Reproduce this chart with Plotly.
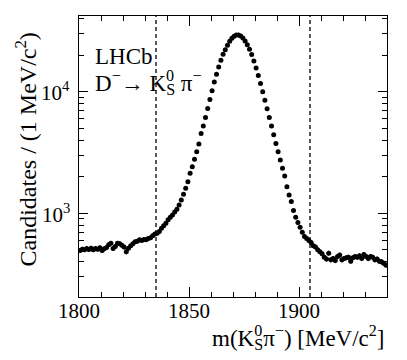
import numpy as np
import plotly.graph_objects as go

# D- -> KS0 pi- mass spectrum, 1 MeV bins from 1800 to 1940
bin_low = 1800
counts = [
    493, 506, 500, 512, 503, 516, 500, 512, 506, 519,
    493, 509, 522, 549, 567, 512, 532, 567, 560, 546,
    526, 481, 516, 539, 560, 581, 589, 604, 596, 608,
    604, 619, 627, 651, 676, 685, 707, 753, 787, 828,
    882, 927, 969, 1026, 1079, 1171, 1287, 1433, 1605, 1821,
    2132, 2419, 2779, 3213, 3715, 4546, 5222, 6152, 7295, 8650,
    10190, 12080, 13970, 16060, 18210, 20400, 22280, 24190, 26090, 27610,
    28680, 29410, 29350, 28860, 27790, 26260, 24490, 22420, 20270, 17980,
    15750, 13620, 11710, 10000, 8541, 7251, 6152, 5222, 4432, 3761,
    3213, 2743, 2344, 2027, 1656, 1415, 1247, 1052, 927, 838,
    767, 698, 643, 619, 596, 574, 539, 526, 500, 481,
    463, 435, 419, 469, 413, 424, 408, 440, 452, 413,
    424, 430, 435, 403, 430, 440, 435, 446, 424, 457,
    440, 424, 440, 435, 413, 419, 403, 398, 388, 374,
]
masses = [bin_low + i + 0.5 for i in range(len(counts))]
signal_window = [1835, 1905]

x_ticks = [1800, 1850, 1900]
y_ticks = [1000, 10000]
y_ticktext = ["10<sup>3</sup>", "10<sup>4</sup>"]

font = "Liberation Serif"
txt = dict(family=font, size=23, color="black")
title_font = dict(family=font, size=24, color="black")
tickfont = dict(family=font, size=21, color="black")

# K0_S with the 0 stacked over the S (negative letter spacing pulls the S back)
ks = "K<sup><span style='letter-spacing:-8px'>0</span></sup><sub>S</sub>"

fig = go.Figure()

fig.add_trace(
    go.Scatter(
        x=masses,
        y=counts,
        mode="markers",
        marker=dict(color="black", size=5),
        error_y=dict(type="data", array=np.sqrt(counts), color="black", thickness=1, width=0),
        showlegend=False,
        hoverinfo="skip",
    )
)

# signal window boundaries
for m in signal_window:
    fig.add_shape(
        type="line", x0=m, x1=m, y0=0, y1=1, xref="x", yref="paper",
        line=dict(color="black", width=1.3, dash="4px,3px"),
    )

# tick labels as annotations on the axis scales (built-in label placement was unstable)
for v in x_ticks:
    fig.add_annotation(
        text=str(v), x=v, xref="x", y=-0.05, yref="paper",
        xanchor="center", yanchor="middle", showarrow=False, font=tickfont,
    )
for v, t in zip(y_ticks, y_ticktext):
    fig.add_annotation(
        text=t, x=-0.023, xref="paper", y=np.log10(v), yref="y",
        xanchor="right", yanchor="middle", showarrow=False, font=tickfont,
    )

fig.add_annotation(
    text="LHCb", x=0.045, y=0.855, xref="paper", yref="paper",
    xanchor="left", yanchor="middle", showarrow=False, font=txt,
)
fig.add_annotation(
    text="D<sup>−</sup>→ " + ks + " π<sup>−</sup>", x=0.045, y=0.765,
    xref="paper", yref="paper", xanchor="left", yanchor="middle", showarrow=False, font=txt,
)
fig.add_annotation(
    text="Candidates / (1 MeV/c<sup>2</sup>)", x=-0.172, y=0.525,
    xref="paper", yref="paper", xanchor="center", yanchor="middle",
    textangle=-90, showarrow=False, font=title_font,
)
fig.add_annotation(
    text="m(" + ks + "π<sup>−</sup>) [MeV/c<sup>2</sup>]", x=1.0, y=-0.145,
    xref="paper", yref="paper", xanchor="right", yanchor="middle", showarrow=False, font=txt,
)

fig.update_layout(
    width=407,
    height=360,
    margin=dict(l=79, r=20, t=16, b=63),
    plot_bgcolor="white",
    paper_bgcolor="white",
    font=txt,
)
fig.update_xaxes(
    range=[1800, 1940],
    tickvals=x_ticks,
    showticklabels=False,
    ticks="inside", ticklen=10, tickcolor="black",
    automargin=False,
    minor=dict(dtick=10, tick0=1800, ticks="inside", ticklen=5, tickcolor="black"),
    showline=True, linecolor="black", linewidth=1, mirror="ticks",
    showgrid=False, zeroline=False,
)
fig.update_yaxes(
    type="log",
    range=[2.31, 4.625],
    tickvals=y_ticks,
    showticklabels=False,
    ticks="inside", ticklen=9, tickcolor="black",
    automargin=False,
    minor=dict(dtick="D1", ticks="inside", ticklen=5, tickcolor="black"),
    showline=True, linecolor="black", linewidth=1, mirror="ticks",
    showgrid=False, zeroline=False,
)

fig.write_html(
    "out.html",
    config={"displayModeBar": False},
    post_script="document.body.style.margin='0';",
)
